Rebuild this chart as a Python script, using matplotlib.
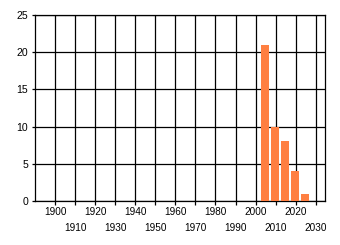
import matplotlib
matplotlib.use('Agg')
import matplotlib.pyplot as plt
import numpy as np

# bar data (bin start year, count)
bin_start = [2002.6, 2007.6, 2012.6, 2017.6, 2022.6]
counts = [21, 10, 8, 4, 1]
bin_width = 4

major_years = [1900, 1920, 1940, 1960, 1980, 2000, 2020]
minor_years = [1910, 1930, 1950, 1970, 1990, 2010, 2030]
y_ticks = [0, 5, 10, 15, 20, 25]

plt.rcParams['font.family'] = ['Liberation Sans', 'DejaVu Sans']

fig = plt.figure(figsize=(3.4, 2.45), dpi=100)
ax = fig.add_axes([35 / 340, 1 - 201 / 245, 290 / 340, 186 / 245])

ax.bar(bin_start, counts, width=bin_width, align='edge', color='#ff7f41', zorder=3)

ax.set_xlim(1890, 2034.6)
ax.set_ylim(0, 25)

ax.set_xticks(major_years)
ax.set_xticks(minor_years, minor=True)
ax.set_xticklabels([str(y) for y in major_years])
ax.set_xticklabels([str(y) for y in minor_years], minor=True)
ax.set_yticks(y_ticks)

lw = 0.9  # about 1 px at 100 dpi
ax.tick_params(axis='x', which='major', length=3, width=lw, pad=1, labelsize=7.2, color='black')
ax.tick_params(axis='x', which='minor', length=3, width=lw, pad=13, labelsize=7.2, color='black')
ax.tick_params(axis='y', length=2, width=lw, pad=3, labelsize=7.6)

ax.grid(True, which='both', axis='x', color='black', linewidth=lw, zorder=1)
ax.grid(True, which='major', axis='y', color='black', linewidth=lw, zorder=1)
ax.set_axisbelow(True)

for s in ax.spines.values():
    s.set_color('black')
    s.set_linewidth(lw)

fig.savefig('out.png', dpi=100)
